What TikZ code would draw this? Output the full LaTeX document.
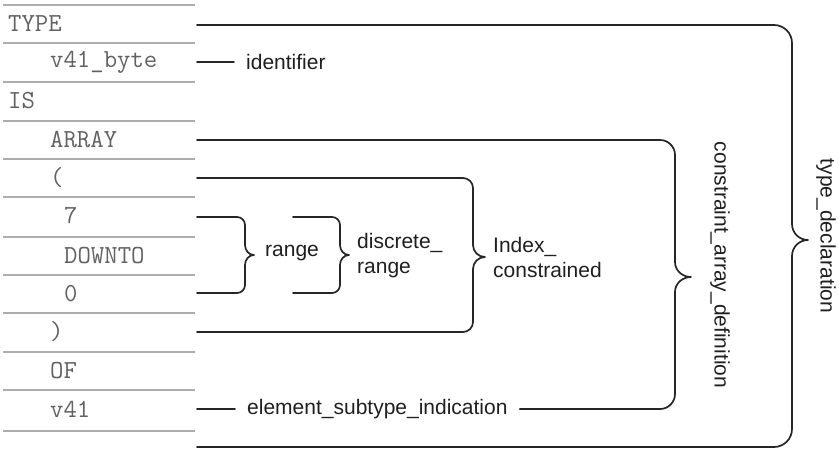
\documentclass[tikz,border=0pt]{standalone}
\usepackage{fontspec}
\setmainfont{Liberation Sans}
\begin{document}
\begin{tikzpicture}[x=1pt,y=-1pt,
  conn/.style={line width=1.7pt,draw=black!85,line cap=round,line join=round},
  rowline/.style={line width=1.4pt,draw=black!32},
  kw/.style={font=\ttfamily\fontsize{26}{28}\selectfont,text=black!62,inner sep=0pt,anchor=west},
  lbl/.style={font=\fontsize{21}{25}\selectfont,text=black!88,inner sep=0pt,anchor=west,align=left},
  rlbl/.style={font=\fontsize{21}{25}\selectfont,text=black!88,inner sep=0pt,rotate=-90}]
\useasboundingbox (0,0) rectangle (839,465);
% table row lines
\foreach \yy in {5,43,82,121,159,197,237,275,313,352,390,431}
  \draw[rowline] (3,\yy) -- (195,\yy);
% table entries
\node[kw] (kTYPE)  at (8,24)   {TYPE};
\node[kw] (kID)    at (50,62)  {v41\_byte};
\node[kw] (kIS)    at (8,101)  {IS};
\node[kw] (kARRAY) at (50,140) {ARRAY};
\node[kw] (kLP)    at (50,178) {(};
\node[kw] (kSEVEN) at (64,216) {7};
\node[kw] (kDOWN)  at (64,256) {DOWNTO};
\node[kw] (kZERO)  at (64,294) {0};
\node[kw] (kRP)    at (50,332) {)};
\node[kw] (kOF)    at (50,371) {OF};
\node[kw] (kV)     at (50,409) {v41};
% connector starts
\coordinate (sTYPE)  at (197,25);
\coordinate (sID)    at (197,62);
\coordinate (sARRAY) at (197,140);
\coordinate (sLP)    at (197,178);
\coordinate (sSEVEN) at (197,217);
\coordinate (sZERO)  at (197,293);
\coordinate (sRP)    at (197,332);
\coordinate (sV)     at (197,409);
\coordinate (sEND)   at (197,447);
% labels
\node[lbl] (identifier) at (246,62) {identifier};
\node[lbl] (element) at (247,409) {element\_subtype\_indication};
\node[lbl] (range) at (265,253) {range};
\node[lbl] (discrete) at (357,256) {discrete\_\\range};
\node[lbl] (index) at (493,257) {Index\_\\constrained};
\node[rlbl] (cad) at (720,265) {constraint\_array\_definition};
\node[rlbl] (td) at (826,236) {type\_declaration};
% simple connectors
\draw[conn] (sID) -- ([xshift=-12pt]identifier.west);
\draw[conn] (sV) -- ([xshift=-12pt]element.west);
% braces: #1 start coord, #2 ytop, #3 ybot, #4 xv, #5 ymid, #6 tip depth, #7 radius, #8 tip half height, #9 end coord
\newcommand{\brc}[9]{%
  \draw[conn] (#1) -- ({#4-#7},#2)
    .. controls ({#4-0.448*#7},#2) and (#4,{#2+0.448*#7}) .. (#4,{#2+#7})
    -- (#4,{#5-#8}) to[out=-90,in=180] ({#4+#6},#5)
    to[out=180,in=90] (#4,{#5+#8})
    -- (#4,{#3-#7})
    .. controls (#4,{#3-0.448*#7}) and ({#4-0.448*#7},#3) .. ({#4-#7},#3)
    -- (#9);}
\coordinate (dTop) at (293,217);
\coordinate (dBot) at (293,293);
\coordinate (eEnd) at ([xshift=12pt]element.east);
\brc{sTYPE}{25}{447}{792}{240}{16}{18}{16}{sEND}
\brc{sARRAY}{140}{409}{675}{277}{16}{15}{15}{eEnd}
\brc{sLP}{178}{332}{473}{257}{12}{10}{12}{sRP}
\brc{sSEVEN}{217}{293}{245}{255}{9}{8}{10}{sZERO}
\brc{dTop}{217}{293}{340}{255}{9}{8}{10}{dBot}
\end{tikzpicture}
\end{document}
